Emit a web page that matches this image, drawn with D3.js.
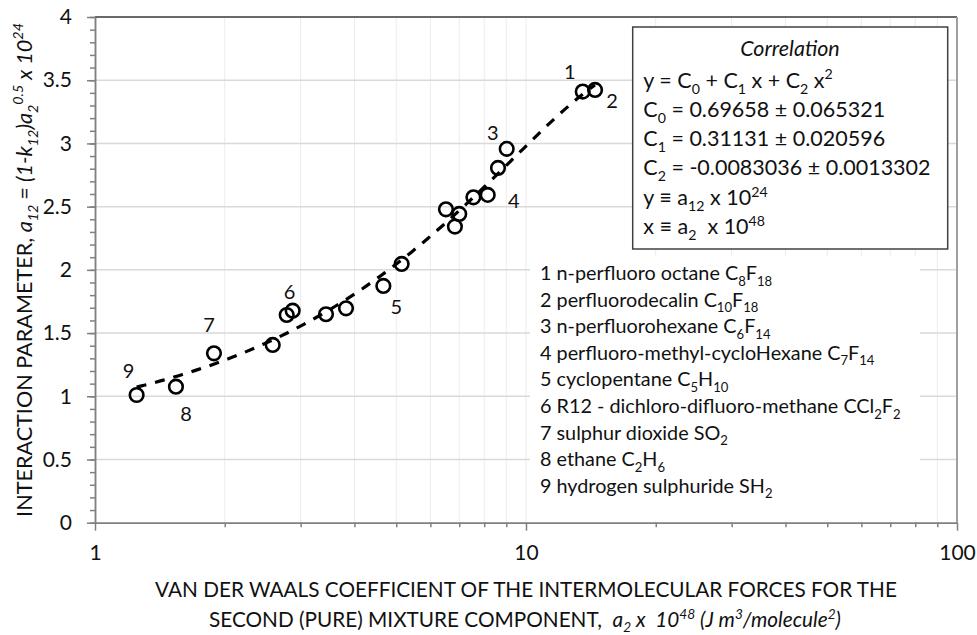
<!DOCTYPE html>
<html>
<head>
<meta charset="utf-8">
<script src="https://cdn.jsdelivr.net/npm/d3@7"></script>
<style>
  body { margin: 0; background: #fff; }
  text { font-family: Lato, "Open Sans", sans-serif; fill: #111; white-space: pre; }
</style>
</head>
<body>
<script>
// values
var a2Vals  = [1.249, 1.541, 1.888, 2.584, 2.785, 2.875, 3.435, 3.823, 4.667, 5.146,
               6.52, 6.84, 7.00, 7.55, 8.15, 8.61, 9.02, 13.54, 14.46];
var a12Vals = [1.010, 1.076, 1.340, 1.406, 1.643, 1.677, 1.649, 1.696, 1.873, 2.047,
               2.479, 2.342, 2.442, 2.574, 2.593, 2.806, 2.957, 3.410, 3.423];
var pointTags = ["9", "8", "7", "", "", "6", "", "", "5", "",
                 "", "", "", "", "4", "", "3", "1", "2"];

// correlation y = C0 + C1 x + C2 x^2
var fitCoef = [0.69658, 0.31131, -0.0083036],
    fitErr  = [0.065321, 0.020596, 0.0013302];

var substances = [
    "1 n-perfluoro octane C_{8}F_{18}",
    "2 perfluorodecalin C_{10}F_{18}",
    "3 n-perfluorohexane C_{6}F_{14}",
    "4 perfluoro-methyl-cycloHexane C_{7}F_{14}",
    "5 cyclopentane C_{5}H_{10}",
    "6 R12 - dichloro-difluoro-methane CCl_{2}F_{2}",
    "7 sulphur dioxide SO_{2}",
    "8 ethane C_{2}H_{6}",
    "9 hydrogen sulphuride SH_{2}"
];

var yTicks = [0, 0.5, 1, 1.5, 2, 2.5, 3, 3.5, 4],
    xTicks = [1, 10, 100];

var width = 977,
    height = 635,
    plotL = 95, plotR = 957, plotT = 17, plotB = 522.7;

var svg = d3.select("body").append("svg")
    .attr("width", width)
    .attr("height", height);

var x = d3.scaleLog().domain([1, 100]).range([plotL, plotR]),
    y = d3.scaleLinear().domain([0, 4]).range([plotB, plotT]);

// tiny markup: * toggles italic, _{..} subscript, ^{..} superscript
function rich(sel, str, size) {
    sel.selectAll("tspan").remove();
    var parts = str.split(/(\*|_\{[^}]*\}|\^\{[^}]*\})/).filter(function(p) { return p !== ""; });
    var it = false, shift = 0;
    parts.forEach(function(p) {
        if (p === "*") { it = !it; return; }
        var t = p, off = 0, small = false;
        if (p[0] === "_" && p[1] === "{") { t = p.slice(2, -1); off = size * 0.28; small = true; }
        else if (p[0] === "^" && p[1] === "{") { t = p.slice(2, -1); off = -size * 0.38; small = true; }
        sel.append("tspan")
            .attr("dy", off - shift)
            .style("font-size", (small ? size * 0.66 : size) + "px")
            .style("font-style", it ? "italic" : "normal")
            .text(t);
        shift = off;
    });
    return sel;
}
function fitSize(sel, str, size, target) {
    rich(sel, str, size);
    var w = sel.node().getComputedTextLength();
    var s = size * target / w;
    rich(sel, str, s);
    return s;
}

// gridlines
var minorX = [];
[1, 10].forEach(function(d) { for (var k = 2; k <= 9; k++) minorX.push(d * k); });
svg.append("g").selectAll("line")
    .data(minorX.concat([10]))
    .enter().append("line")
    .attr("x1", function(d) { return x(d); })
    .attr("x2", function(d) { return x(d); })
    .attr("y1", plotT).attr("y2", plotB)
    .attr("stroke", "#ececec").attr("stroke-width", 1);
svg.append("g").selectAll("line")
    .data(yTicks.slice(1))
    .enter().append("line")
    .attr("x1", plotL).attr("x2", plotR)
    .attr("y1", function(d) { return y(d); })
    .attr("y2", function(d) { return y(d); })
    .attr("stroke", "#d9d9d9").attr("stroke-width", 1.5);

// plot frame (top and right)
svg.append("line").attr("x1", plotL).attr("x2", plotR).attr("y1", plotT).attr("y2", plotT)
    .attr("stroke", "#404040").attr("stroke-width", 1.5);
svg.append("line").attr("x1", plotR).attr("x2", plotR).attr("y1", plotT).attr("y2", plotB)
    .attr("stroke", "#a0a0a0").attr("stroke-width", 2);

// axes
function styleAxis(g) {
    g.selectAll("path, line").attr("stroke", "#808080").attr("stroke-width", 1.5);
    g.selectAll("text").style("font-size", "21px").attr("fill", "#111");
}
svg.append("g").attr("transform", "translate(" + plotL + ",0)")
    .call(d3.axisLeft(y).tickValues(d3.range(0, 40.5, 1).map(function(d) { return d / 10; }))
        .tickSize(5).tickFormat("").tickSizeOuter(0))
    .call(styleAxis);
svg.append("g").attr("transform", "translate(" + plotL + ",0)")
    .call(d3.axisLeft(y).tickValues(yTicks).tickSize(8).tickPadding(15).tickSizeOuter(0)
        .tickFormat(d3.format("")))
    .call(styleAxis);
svg.append("g").attr("transform", "translate(0," + plotB + ")")
    .call(d3.axisBottom(x).tickValues(minorX).tickSize(4.5).tickFormat("").tickSizeOuter(0))
    .call(styleAxis);
svg.append("g").attr("transform", "translate(0," + plotB + ")")
    .call(d3.axisBottom(x).tickValues(xTicks).tickSize(8).tickPadding(14).tickSizeOuter(0)
        .tickFormat(d3.format("")))
    .call(styleAxis);

// substance list (white panel)
svg.append("rect").attr("x", 530).attr("y", 256).attr("width", 390).attr("height", 265)
    .attr("fill", "#fff");
var probe = svg.append("text").attr("x", -999).attr("y", -999);
var listSize = fitSize(probe, substances[5], 20, 361);
probe.remove();
substances.forEach(function(s, i) {
    rich(svg.append("text").attr("x", 540).attr("y", 280 + i * 26.6), s, listSize);
});

// correlation box
svg.append("rect").attr("x", 632.7).attr("y", 27).attr("width", 315).attr("height", 222)
    .attr("fill", "#fff").attr("stroke", "#404040").attr("stroke-width", 1.5);
var corrLines = [
    "y = C_{0} + C_{1} x + C_{2} x^{2}",
    "C_{0} = " + fitCoef[0] + " ± " + fitErr[0],
    "C_{1} = " + fitCoef[1] + " ± " + fitErr[1],
    "C_{2} = " + fitCoef[2] + " ± " + fitErr[2],
    "y ≡ a_{12} x 10^{24}",
    "x ≡ a_{2}  x 10^{48}"
];
probe = svg.append("text").attr("x", -999).attr("y", -999);
var corrSize = fitSize(probe, corrLines[1], 21, 242);
probe.remove();
rich(svg.append("text").attr("x", 790).attr("y", 56).attr("text-anchor", "middle"),
    "*Correlation*", corrSize);
corrLines.forEach(function(s, i) {
    rich(svg.append("text").attr("x", 643.3).attr("y", 87.5 + i * 29.3), s, corrSize);
});

// fitted curve
var xs = d3.extent(a2Vals);
var curveX = d3.range(0, 121).map(function(i) { return xs[0] * Math.pow(xs[1] / xs[0], i / 120); });
var line = d3.line()
    .x(function(d) { return x(d); })
    .y(function(d) { return y(fitCoef[0] + fitCoef[1] * d + fitCoef[2] * d * d); });
svg.append("path").datum(curveX)
    .attr("d", line)
    .attr("fill", "none").attr("stroke", "#000")
    .attr("stroke-width", 3.2).attr("stroke-dasharray", "10,9");

// points
var pts = a2Vals.map(function(d, i) { return {x: d, y: a12Vals[i], tag: pointTags[i]}; });
svg.append("g").selectAll("circle")
    .data(pts).enter().append("circle")
    .attr("cx", function(d) { return x(d.x); })
    .attr("cy", function(d) { return y(d.y); })
    .attr("r", 6.8)
    .attr("fill", "none").attr("stroke", "#000").attr("stroke-width", 2.6);

// point number labels, offsets in px from the point
var tagOffset = {"1": [-13, -21], "2": [17, 10], "3": [-14, -17], "4": [26, 5], "5": [13, 20],
                 "6": [-3, -20], "7": [-5, -29], "8": [10, 26], "9": [-8, -25]};
svg.append("g").selectAll("text")
    .data(pts.filter(function(d) { return d.tag; }))
    .enter().append("text")
    .attr("x", function(d) { return x(d.x) + tagOffset[d.tag][0]; })
    .attr("y", function(d) { return y(d.y) + tagOffset[d.tag][1]; })
    .attr("text-anchor", "middle")
    .attr("dominant-baseline", "central")
    .style("font-size", "20px")
    .text(function(d) { return d.tag; });

// axis titles
var yt = svg.append("text").attr("text-anchor", "middle")
    .attr("transform", "translate(31.5,270) rotate(-90)");
fitSize(yt, "INTERACTION PARAMETER, *a_{12} = (1-k_{12})a_{2}^{0.5} x 10^{24}*", 21, 494);

var xt1 = svg.append("text").attr("text-anchor", "middle").attr("x", 526).attr("y", 596.5);
var xSize = fitSize(xt1, "VAN DER WAALS COEFFICIENT OF THE INTERMOLECULAR FORCES FOR THE", 21, 742);
rich(svg.append("text").attr("text-anchor", "middle").attr("x", 525).attr("y", 626.5),
    "SECOND (PURE) MIXTURE COMPONENT,  *a_{2} x  10^{48} (J m^{3}/molecule^{2})*", xSize);
</script>
</body>
</html>
